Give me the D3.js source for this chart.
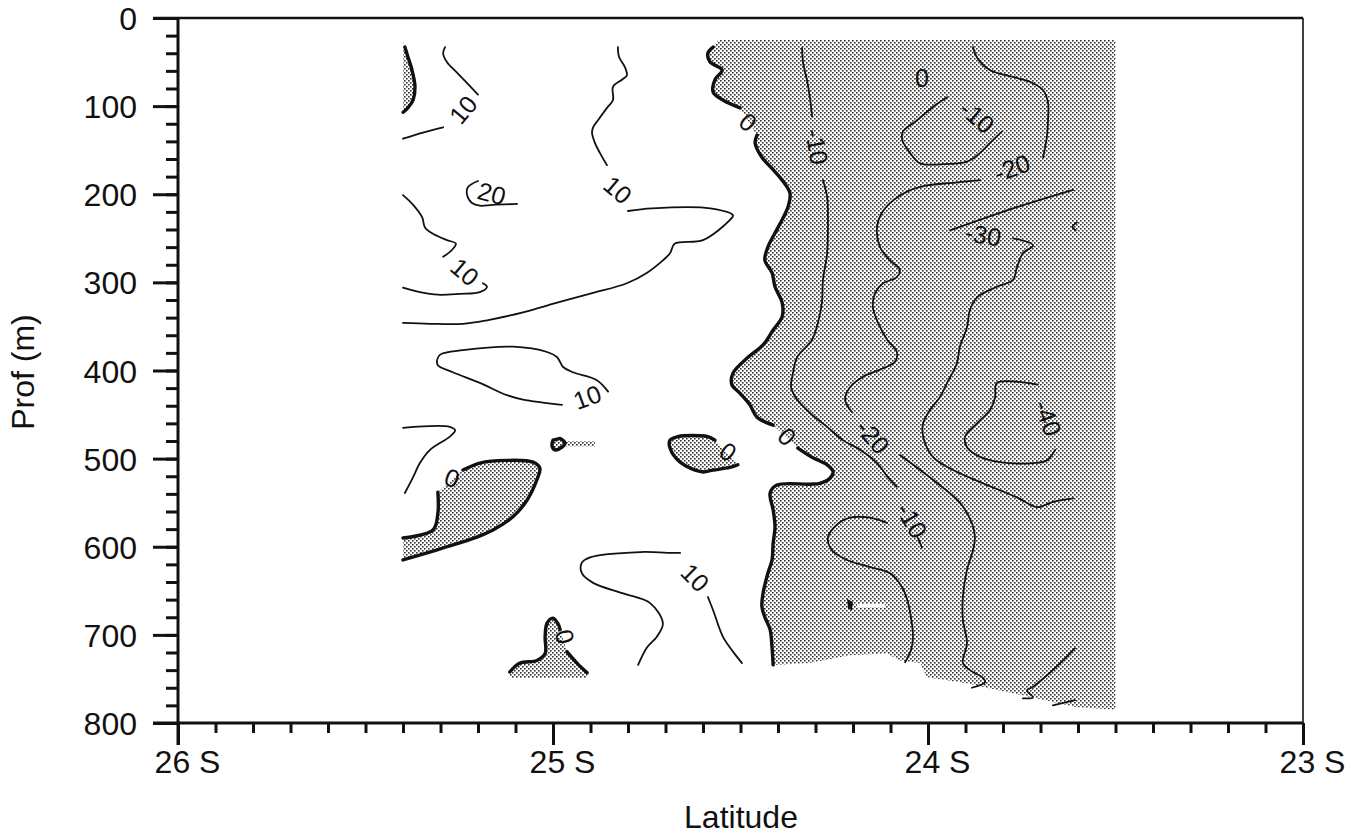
<!DOCTYPE html>
<html>
<head>
<meta charset="utf-8">
<script src="https://cdn.jsdelivr.net/npm/d3@7"></script>
<style>
  body { margin: 0; background: #fff; }
  svg { display: block; }
  text { font-family: "Liberation Sans", Arial, Helvetica, sans-serif; fill: #111; }
</style>
</head>
<body>
<svg id="chart" width="1365" height="837"></svg>
<script>
// ---- Axis ticks -------------------------------------------------------
const latMajor = [26, 25, 24, 23];
const latMinor = d3.range(0, 31).map(i => +(26 - i / 10).toFixed(1));
const depthMajor = [0, 100, 200, 300, 400, 500, 600, 700, 800];
const depthMinor = d3.range(0, 801, 20);

// ---- Contour segments: [latitude (deg S), depth (m)] -----------------
// level +10
const c10_a1 = [[25.288,33],[25.293,40],[25.283,50],[25.256,62],[25.229,74],[25.200,87]];
const c10_a2 = [[25.293,124],[25.347,130],[25.400,137]];
const c10_b1 = [[25.400,201],[25.373,212],[25.349,226],[25.341,238],[25.315,246],[25.283,252],[25.259,256],[25.269,263],[25.293,271]];
const c10_b2 = [[25.187,301],[25.176,305],[25.195,311],[25.248,313],[25.307,314],[25.355,311],[25.400,306]];
const c10_c1 = [[24.827,33],[24.824,44],[24.808,56],[24.803,65],[24.816,70],[24.840,78],[24.840,93],[24.856,102],[24.880,116],[24.893,124],[24.896,130],[24.888,142],[24.875,153],[24.856,167]];
const c10_c2 = [[24.800,219],[24.736,216],[24.581,216],[24.520,224],[24.528,229],[24.600,252],[24.675,256],[24.688,267],[24.707,275],[24.749,289],[24.803,301],[24.893,312],[24.989,323],[25.080,334],[25.176,343],[25.240,347],[25.328,347],[25.400,346]];
const c10_d  = [[24.976,439],[25.080,433],[25.123,428],[25.195,414],[25.267,402],[25.307,394],[25.309,388],[25.301,382],[25.240,377],[25.107,373],[25.016,379],[24.989,385],[24.973,396],[24.947,402],[24.883,411],[24.853,424]];
const c10_e  = [[25.400,465],[25.275,464],[25.261,468],[25.275,475],[25.328,490],[25.355,505],[25.373,521],[25.395,539]];
const c10_f1 = [[24.661,607],[24.680,607],[24.768,606],[24.901,612],[24.923,618],[24.923,630],[24.893,641],[24.813,653],[24.741,664],[24.707,687],[24.723,702],[24.749,714],[24.773,734]];
const c10_f2 = [[24.587,657],[24.573,672],[24.547,702],[24.520,719],[24.496,732]];
// level +20
const c20_a  = [[25.200,185],[25.227,192],[25.229,201],[25.216,210],[25.195,213],[25.160,212],[25.096,211]];
// level 0
const c0_a   = [[25.395,33],[25.387,44],[25.376,59],[25.368,78],[25.373,93],[25.387,102],[25.400,107]];
const c0_b1  = [[25.400,590],[25.320,581],[25.307,562],[25.307,538]];
const c0_b2  = [[25.240,513],[25.195,505],[25.123,502],[25.053,504],[25.035,511],[25.043,524],[25.069,547],[25.107,566],[25.160,581],[25.203,589],[25.283,600],[25.336,607],[25.400,615]];
const c0_c   = [[25.000,479],[25.003,485],[24.995,490],[24.976,487],[24.968,482],[24.981,477]];
const c0_d   = [[24.507,507],[24.528,510],[24.573,513],[24.603,515],[24.661,504],[24.688,488],[24.688,479],[24.667,475],[24.608,474],[24.587,475],[24.568,479]];
const c0_e1  = [[25.115,742],[25.088,732],[25.043,729],[25.021,721],[25.021,702],[25.016,687],[25.000,681],[24.987,687],[24.981,694]];
const c0_e2  = [[24.963,719],[24.936,732],[24.909,743]];
const c0_m1  = [[24.573,33],[24.587,40],[24.581,50],[24.549,59],[24.568,70],[24.573,84],[24.547,93],[24.501,102]];
const c0_m2  = [[24.456,133],[24.461,142],[24.443,158],[24.413,172],[24.389,184],[24.368,199],[24.373,214],[24.389,229],[24.408,244],[24.427,260],[24.435,275],[24.416,289],[24.408,305],[24.389,323],[24.389,339],[24.413,354],[24.440,371],[24.480,385],[24.520,403],[24.523,416],[24.501,426],[24.475,439],[24.456,453],[24.413,462]];
const c0_m3  = [[24.347,488],[24.307,499],[24.269,507],[24.253,515],[24.261,522],[24.288,528],[24.315,529],[24.403,530],[24.421,539],[24.413,558],[24.408,578],[24.413,596],[24.416,615],[24.427,630],[24.440,653],[24.443,668],[24.435,680],[24.421,694],[24.416,714],[24.413,734]];
const c0_spot = [[24.216,659],[24.200,663],[24.203,672],[24.213,670]];
// level -10
const cm10_a1 = [[24.336,34],[24.333,51],[24.323,70],[24.315,90],[24.309,112]];
const cm10_a2 = [[24.280,184],[24.269,203],[24.267,229],[24.269,267],[24.280,297],[24.283,323],[24.293,345],[24.309,365],[24.349,385],[24.360,403],[24.365,419],[24.349,433],[24.315,448],[24.269,464],[24.227,479],[24.181,490],[24.136,505],[24.107,521],[24.083,532]];
const cm10_a3 = [[24.027,590],[24.016,601]];
const cm10_b  = [[24.109,573],[24.155,567],[24.208,567],[24.243,575],[24.267,590],[24.256,604],[24.216,615],[24.155,623],[24.101,630],[24.069,646],[24.053,664],[24.043,687],[24.040,702],[24.045,717],[24.061,731]];
const cm10_c  = [[23.949,90],[23.987,101],[24.029,116],[24.067,129],[24.069,138],[24.048,153],[24.021,165],[23.968,166],[23.896,163],[23.861,153],[23.835,142],[23.803,129]];
// level -20
const cm20_a1 = [[23.880,33],[23.869,45],[23.835,59],[23.763,68],[23.720,74],[23.693,82],[23.680,96],[23.680,116],[23.683,135],[23.693,158]];
const cm20_a2 = [[23.861,184],[23.933,187],[24.003,190],[24.056,197],[24.093,207],[24.123,221],[24.136,237],[24.128,260],[24.101,275],[24.075,286],[24.083,294],[24.120,301],[24.141,312],[24.147,328],[24.133,346],[24.109,365],[24.083,379],[24.088,390],[24.128,399],[24.173,407],[24.208,419],[24.221,433],[24.203,447]];
const cm20_a3 = [[24.075,496],[23.987,524],[23.915,550],[23.883,573],[23.875,589],[23.880,604],[23.896,626],[23.907,657],[23.907,683],[23.896,709],[23.907,732],[23.888,740],[23.853,749],[23.848,754],[23.883,760]];
// level -30
const cm30_a1 = [[23.613,195],[23.773,216],[23.941,241]];
const cm30_a2 = [[23.773,250],[23.720,258],[23.747,267],[23.763,283],[23.773,297],[23.816,305],[23.869,317],[23.888,331],[23.896,351],[23.915,373],[23.923,392],[23.949,414],[23.968,430],[23.995,445],[24.013,460],[24.013,475],[23.987,498],[23.933,513],[23.853,528],[23.763,544],[23.709,555],[23.667,549],[23.613,545]];
const cm30_b1 = [[23.608,715],[23.640,729],[23.675,743],[23.720,759],[23.736,763],[23.720,771],[23.747,772]];
const cm30_b2 = [[23.667,780],[23.608,774]];
const cm30_c  = [[23.603,232],[23.615,237],[23.606,241]];
// level -40
const cm40_a  = [[23.707,416],[23.816,414],[23.821,430],[23.835,445],[23.869,460],[23.901,475],[23.896,487],[23.861,498],[23.808,504],[23.720,505],[23.683,502],[23.661,490]];

// lower limit of the sampled section on the eastern side
const floorEast = [[24.403,734],[24.315,732],[24.208,723],[24.109,721],[24.075,729],[24.021,732],[24.003,748],[23.896,755],[23.843,760],[23.720,771],[23.603,782],[23.500,785]];
const sectionTop = 25;       // m
const sectionWest = 25.4;    // deg S
const sectionEast = 23.5;    // deg S

// contour labels: [lat, depth, text]
const contourLabels = [
  [25.240,104,"10"], [25.163,199,"20"], [25.235,288,"10"], [24.827,195,"10"],
  [24.909,430,"10"], [24.621,635,"10"], [25.269,522,"0"],  [24.533,492,"0"],
  [24.968,702,"0"],  [24.480,118,"0"],  [24.376,475,"0"],  [24.296,146,"-10"],
  [24.043,570,"-10"],[23.869,112,"-10"],[24.016,68,"0"],   [23.776,170,"-20"],
  [24.147,475,"-20"],[23.853,246,"-30"],[23.680,454,"-40"]
];
const labelAngles = [-50, 15, 40, 40, -20, 45, 20, 35, 75, 40, 45, 80, 60, 40, 0, -20, 50, 10, 70];

// ---- Drawing ----------------------------------------------------------
const svg = d3.select("#chart");
const x = d3.scaleLinear().domain([26, 23]).range([178, 1303]);
const y = d3.scaleLinear().domain([0, 800]).range([18, 723]);

const defs = svg.append("defs");
const pat = defs.append("pattern").attr("id", "stipple")
  .attr("width", 4).attr("height", 4).attr("patternUnits", "userSpaceOnUse");
pat.append("rect").attr("width", 4).attr("height", 4).attr("fill", "#fff");
pat.append("rect").attr("x", 0).attr("y", 0).attr("width", 1.6).attr("height", 1.6).attr("fill", "#333");
pat.append("rect").attr("x", 2).attr("y", 2).attr("width", 1.6).attr("height", 1.6).attr("fill", "#333");

const smooth = d3.line().x(d => x(d[0])).y(d => y(d[1])).curve(d3.curveCatmullRom.alpha(0.5));
const straight = d3.line().x(d => x(d[0])).y(d => y(d[1]));
function joinParts(parts) {
  return parts.map((p, i) => {
    const s = (p.s ? smooth : straight)(p.pts);
    return i ? s.replace(/^M/, "L") : s;
  }).join("") + "Z";
}

// negative (westward) flow regions
const shades = [
  joinParts([{ pts: [[sectionWest, sectionTop + 2]], s: false }, { pts: c0_a, s: true }]),
  joinParts([{ pts: c0_b1, s: true }, { pts: c0_b2, s: true }]),
  joinParts([{ pts: c0_c, s: true }]),
  joinParts([{ pts: [[24.968,480],[24.888,480],[24.888,486],[24.968,486]], s: false }]),
  joinParts([{ pts: c0_d, s: true }]),
  joinParts([{ pts: c0_e1, s: true }, { pts: c0_e2, s: true }, { pts: [[24.909,749],[25.115,749]], s: false }]),
  joinParts([{ pts: [[24.560, sectionTop]], s: false }, { pts: c0_m1, s: true }, { pts: c0_m2, s: true },
             { pts: c0_m3, s: true }, { pts: floorEast, s: false }, { pts: [[sectionEast, sectionTop]], s: false }])
];
svg.append("g").selectAll("path").data(shades).join("path")
  .attr("d", d => d).attr("fill", "url(#stipple)").attr("stroke", "none");

// contour lines
const contours = [
  { level: 10, pts: c10_a1 }, { level: 10, pts: c10_a2 }, { level: 10, pts: c10_b1 }, { level: 10, pts: c10_b2 },
  { level: 10, pts: c10_c1 }, { level: 10, pts: c10_c2 }, { level: 10, pts: c10_d }, { level: 10, pts: c10_e },
  { level: 10, pts: c10_f1 }, { level: 10, pts: c10_f2 }, { level: 20, pts: c20_a },
  { level: 0, pts: c0_a }, { level: 0, pts: c0_b1 }, { level: 0, pts: c0_b2 }, { level: 0, pts: c0_c, closed: true },
  { level: 0, pts: c0_d }, { level: 0, pts: c0_e1 }, { level: 0, pts: c0_e2 },
  { level: 0, pts: c0_m1 }, { level: 0, pts: c0_m2 }, { level: 0, pts: c0_m3 },
  { level: -10, pts: cm10_a1 }, { level: -10, pts: cm10_a2 }, { level: -10, pts: cm10_a3 },
  { level: -10, pts: cm10_b }, { level: -10, pts: cm10_c },
  { level: -20, pts: cm20_a1 }, { level: -20, pts: cm20_a2 }, { level: -20, pts: cm20_a3 },
  { level: -30, pts: cm30_a1 }, { level: -30, pts: cm30_a2 }, { level: -30, pts: cm30_b1 },
  { level: -30, pts: cm30_b2 }, { level: -30, pts: cm30_c },
  { level: -40, pts: cm40_a }
];
svg.append("g").selectAll("path").data(contours).join("path")
  .attr("d", d => d.closed ? joinParts([{ pts: d.pts, s: true }]) : smooth(d.pts))
  .attr("fill", "none").attr("stroke", "#111")
  .attr("stroke-width", d => d.level === 0 ? 3.4 : 1.8)
  .attr("stroke-linejoin", "round").attr("stroke-linecap", "round");

// small positive pocket inside the westward flow
svg.append("path").attr("d", joinParts([{ pts: c0_spot, s: false }])).attr("fill", "#111");
svg.append("path").attr("d", straight([[24.189,667],[24.115,667]]))
  .attr("stroke", "#fff").attr("stroke-width", 3.5);

// contour labels
svg.append("g").selectAll("text").data(contourLabels).join("text")
  .attr("transform", (d, i) => `translate(${x(d[0])},${y(d[1])}) rotate(${labelAngles[i]})`)
  .attr("text-anchor", "middle").attr("dominant-baseline", "central")
  .style("font-size", "25px").text(d => d[2]);

// ---- Axes -------------------------------------------------------------
function styleAxis(g) {
  g.select(".domain").remove();
  g.selectAll(".tick line").attr("stroke", "#111").attr("stroke-width", 3);
  g.selectAll("text").style("font-size", "32px").attr("fill", "#111");
}
svg.append("g").attr("transform", `translate(${x(26)},0)`)
  .call(d3.axisLeft(y).tickValues(depthMinor).tickSize(12).tickFormat(""))
  .call(styleAxis);
svg.append("g").attr("transform", `translate(${x(26)},0)`)
  .call(d3.axisLeft(y).tickValues(depthMajor).tickSize(25).tickPadding(16).tickFormat(d3.format("d")))
  .call(styleAxis)
  .call(g => g.selectAll("text").attr("dy", "0.36em"));
svg.append("g").attr("transform", `translate(0,${y(800)})`)
  .call(d3.axisBottom(x).tickValues(latMinor).tickSize(10).tickFormat(""))
  .call(styleAxis);
svg.append("g").attr("transform", `translate(0,${y(800)})`)
  .call(d3.axisBottom(x).tickValues(latMajor).tickSize(22).tickPadding(5).tickFormat(d => d + " S"))
  .call(styleAxis)
  .call(g => g.selectAll("text").attr("dx", 9));

// frame
const frame = svg.append("g").attr("stroke", "#111").attr("fill", "none");
frame.append("line").attr("x1", x(26)).attr("x2", x(26)).attr("y1", y(0)).attr("y2", y(800) + 22).attr("stroke-width", 3);
frame.append("line").attr("x1", x(26) - 25).attr("x2", x(23)).attr("y1", y(800)).attr("y2", y(800)).attr("stroke-width", 3);
frame.append("line").attr("x1", x(26) - 25).attr("x2", x(23)).attr("y1", y(0)).attr("y2", y(0)).attr("stroke-width", 2.5);
frame.append("line").attr("x1", x(23)).attr("x2", x(23)).attr("y1", y(0)).attr("y2", y(800) + 22).attr("stroke-width", 1.6);

// axis titles
svg.append("text").attr("x", 741).attr("y", 828).attr("text-anchor", "middle")
  .style("font-size", "32px").text("Latitude");
svg.append("text").attr("transform", "translate(34,372) rotate(-90)").attr("text-anchor", "middle")
  .style("font-size", "32px").text("Prof (m)");
</script>
</body>
</html>
